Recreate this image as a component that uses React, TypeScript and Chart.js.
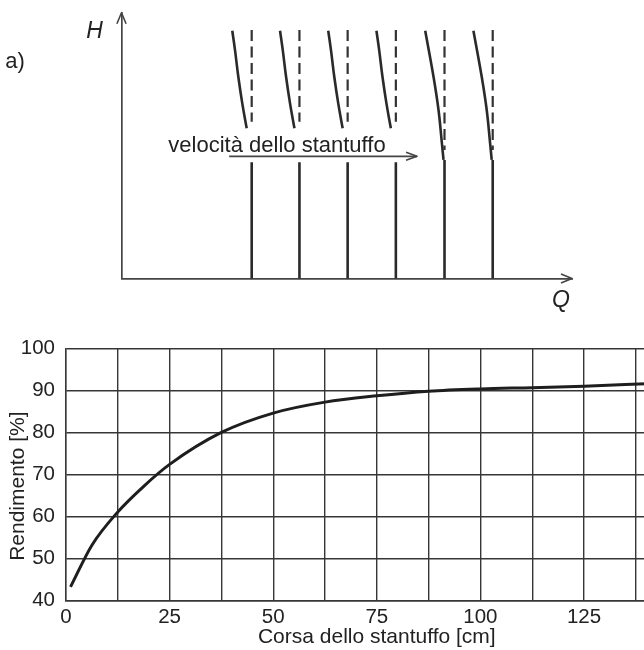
import React, { useEffect, useRef } from "react";
import { Chart, registerables } from "chart.js";
Chart.register(...registerables);

// ---------- (a) H–Q diagram: characteristic curves for increasing piston speed ----------
const curveBaseQ = [28.9, 39.5, 50.2, 60.9, 71.7, 82.4];
const shortCurveCount = 4;
// upper (bent) branch of the first four curves, interrupted by the label
const shortUpperH = [93.2, 86.0, 75.9, 65.9, 56.5];
const shortUpperDQ = [-4.31, -3.71, -2.97, -2.09, -1.11];
const shortLowerH = [43.7, 0];
// last two curves: continuous
const longUpperH = [93.2, 75.9, 63.4, 50.9, 44.6];
const longUpperDQ = [-4.28, -2.44, -1.33, -0.58, -0.22];
const longLowerH = [44.6, 0];
// dashed (ideal) vertical characteristics
const dashedShortH = [93.5, 59.0];
const dashedLongH = [93.5, 48.3];
// "velocità dello stantuffo" arrow
const speedArrowQ = [23.9, 65.6];
const speedArrowH = 45.95;
const speedLabel = "velocità dello stantuffo";
const speedLabelQ = 10.4;
const speedLabelH = 47.7;

// ---------- (b) efficiency vs piston stroke ----------
const strokeCm = [1.1, 6.25, 12.5, 18.75, 25, 37.5, 50, 62.5, 75, 87.5, 100, 112.5, 125, 140];
const efficiencyPct = [43.3, 53.2, 61.1, 67.2, 72.4, 80, 84.6, 87.2, 88.7, 89.8, 90.35, 90.65, 91.0, 91.6];
const xTitle = "Corsa dello stantuffo [cm]";
const yTitle = "Rendimento [%]";

const FONT = "'Liberation Sans', Arial, Helvetica, sans-serif";
const INK = "#2a2a2a";
const AXIS = "#454545";

function chevron(ctx: CanvasRenderingContext2D, tx: number, ty: number, dx: number, dy: number, len: number, half: number) {
  const bx = tx - dx * len, by = ty - dy * len;
  const px = -dy, py = dx;
  ctx.beginPath();
  ctx.moveTo(bx + px * half, by + py * half);
  ctx.lineTo(tx, ty);
  ctx.lineTo(bx - px * half, by - py * half);
  ctx.stroke();
}

export default function App() {
  const topRef = useRef<HTMLCanvasElement>(null);
  const botRef = useRef<HTMLCanvasElement>(null);

  useEffect(() => {
    Chart.defaults.font.family = FONT;
    Chart.defaults.color = "#222";

    const datasets: any[] = [];
    curveBaseQ.forEach((q0, i) => {
      const isShort = i < shortCurveCount;
      const upH = isShort ? shortUpperH : longUpperH;
      const upDQ = isShort ? shortUpperDQ : longUpperDQ;
      const lowH = isShort ? shortLowerH : longLowerH;
      const dashH = isShort ? dashedShortH : dashedLongH;
      datasets.push({
        data: upH.map((h, k) => ({ x: q0 + upDQ[k], y: h })),
        borderColor: INK, borderWidth: 2.6, tension: 0.4, pointRadius: 0, showLine: true, clip: false,
      });
      datasets.push({
        data: lowH.map((h) => ({ x: q0, y: h })),
        borderColor: INK, borderWidth: 2.6, pointRadius: 0, showLine: true, clip: false,
      });
      datasets.push({
        data: dashH.map((h) => ({ x: q0, y: h })),
        borderColor: "#333", borderWidth: 2.2, borderDash: [11, 5.5], pointRadius: 0, showLine: true, clip: false,
      });
    });
    datasets.push({
      data: speedArrowQ.map((q) => ({ x: q, y: speedArrowH })),
      borderColor: AXIS, borderWidth: 1.6, pointRadius: 0, showLine: true, clip: false,
    });

    const topDecor = {
      id: "topDecor",
      afterDatasetsDraw(chart: any) {
        const { ctx, chartArea: a, scales } = chart;
        const xs = scales.x, ys = scales.y;
        ctx.save();
        ctx.strokeStyle = AXIS;
        ctx.lineWidth = 1.6;
        ctx.lineJoin = "round";
        chevron(ctx, a.left, a.top, 0, -1, 11, 4.6);
        chevron(ctx, a.right, a.bottom, 1, 0, 11, 4.6);
        chevron(ctx, xs.getPixelForValue(speedArrowQ[1]), ys.getPixelForValue(speedArrowH), 1, 0, 11, 4);
        ctx.fillStyle = "#222";
        ctx.textAlign = "center";
        ctx.textBaseline = "middle";
        ctx.font = `italic 23px ${FONT}`;
        ctx.fillText("H", a.left - 27, a.top + 18.5);
        ctx.fillText("Q", a.right - 11, a.bottom + 22);
        ctx.font = `22px ${FONT}`;
        ctx.fillText("a)", 15, 62);
        ctx.textAlign = "left";
        ctx.textBaseline = "alphabetic";
        ctx.font = `22px ${FONT}`;
        ctx.fillText(speedLabel, xs.getPixelForValue(speedLabelQ), ys.getPixelForValue(speedLabelH));
        ctx.restore();
      },
    };

    const top = new Chart(topRef.current!, {
      type: "scatter",
      data: { datasets },
      options: {
        responsive: false,
        animation: false,
        events: [],
        layout: { padding: { left: 121.5, right: 72, top: 12.7, bottom: 41.5 }, autoPadding: false },
        plugins: { legend: { display: false }, tooltip: { enabled: false } },
        scales: {
          x: {
            type: "linear", min: 0, max: 100,
            grid: { display: false, drawTicks: false },
            ticks: { display: false },
            border: { display: true, color: AXIS, width: 1.7 },
          },
          y: {
            type: "linear", min: 0, max: 100,
            grid: { display: false, drawTicks: false },
            ticks: { display: false },
            border: { display: true, color: AXIS, width: 1.7 },
          },
        },
      } as any,
      plugins: [topDecor],
    });

    const GRID = "#363636";
    const bot = new Chart(botRef.current!, {
      type: "line",
      data: {
        datasets: [
          {
            data: strokeCm.map((x, i) => ({ x, y: efficiencyPct[i] })),
            borderColor: "#1e1e1e",
            borderWidth: 3,
            pointRadius: 0,
            cubicInterpolationMode: "monotone",
            clip: false,
          },
        ],
      },
      options: {
        responsive: false,
        animation: false,
        events: [],
        layout: { padding: { left: 0, right: 32.4, top: 18.3, bottom: 0 }, autoPadding: false },
        plugins: { legend: { display: false }, tooltip: { enabled: false } },
        scales: {
          x: {
            type: "linear", min: 0, max: 150,
            afterFit: (s: any) => { s.height = 49.3; },
            grid: { color: GRID, lineWidth: 1.4, drawTicks: false },
            border: { color: GRID, width: 1.4 },
            ticks: {
              stepSize: 12.5, autoSkip: false, maxRotation: 0, padding: 4.5,
              font: { size: 20.5 }, color: "#222",
              callback: (v: any) => (Number(v) % 25 === 0 ? String(v) : ""),
            },
            title: { display: true, text: xTitle, font: { size: 21 }, color: "#222", padding: { top: 0, bottom: 0 } },
          },
          y: {
            type: "linear", min: 40, max: 100,
            afterFit: (s: any) => { s.width = 66; },
            grid: { color: GRID, lineWidth: 1.4, drawTicks: false },
            border: { color: GRID, width: 1.4 },
            ticks: { stepSize: 10, padding: 11, font: { size: 20.5 }, color: "#222" },
            title: {
              display: true, text: yTitle + "\u00a0\u00a0\u00a0\u00a0", font: { size: 21 }, color: "#222",
              padding: { top: 5.4, bottom: 0 },
            },
          },
        },
      } as any,
    });

    return () => {
      top.destroy();
      bot.destroy();
    };
  }, []);

  return (
    <div style={{ position: "fixed", left: 0, top: 0, width: 644, height: 650, overflow: "hidden", background: "#fff" }}>
      <canvas ref={topRef} width={644} height={320} style={{ position: "absolute", left: 0, top: 0, width: 644, height: 320 }} />
      <canvas ref={botRef} width={720} height={325} style={{ position: "absolute", left: 0, top: 325, width: 720, height: 325 }} />
    </div>
  );
}
